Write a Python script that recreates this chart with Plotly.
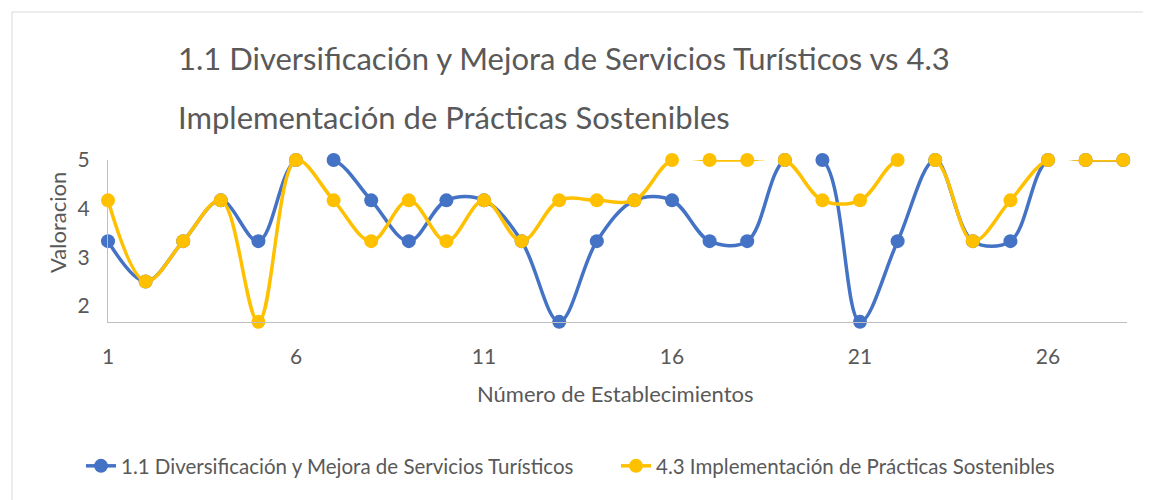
import plotly.graph_objects as go

establecimientos = list(range(1, 29))
serie_11 = [3.33, 2.5, 3.33, 4.17, 3.33, 5, 5, 4.17, 3.33, 4.17, 4.17, 3.33, 1.67, 3.33,
            4.17, 4.17, 3.33, 3.33, 5, 5, 1.67, 3.33, 5, 3.33, 3.33, 5, 5, 5]
serie_43 = [4.17, 2.5, 3.33, 4.17, 1.67, 5, 4.17, 3.33, 4.17, 3.33, 4.17, 3.33, 4.17, 4.17,
            4.17, 5, 5, 5, 5, 4.17, 4.17, 5, 5, 3.33, 4.17, 5, 5, 5]
nombre_11 = "1.1 Diversificación y Mejora de Servicios Turísticos"
nombre_43 = "4.3 Implementación de Prácticas Sostenibles"
titulo_1 = "1.1 Diversificación y Mejora de Servicios Turísticos vs 4.3"
titulo_2 = "Implementación de Prácticas Sostenibles"
y_ticks = [2, 3, 4, 5]
x_ticks = [1, 6, 11, 16, 21, 26]

GRAY = "#595959"
FONT = "Lato"

# page offset (body margin) compensation
OFF = 8
W, H = 1151 - OFF, 500 - OFF
# plot area in page pixels
L, R, T, B = 108, 1127, 160, 322
def px(x):
    return (x - L) / (R - L)
def py(y):
    return (B - y) / (B - T)

fig = go.Figure()
fig.add_trace(go.Scatter(
    x=establecimientos, y=serie_11, name=nombre_11, mode="lines+markers",
    line=dict(color="#4472C4", width=3.5, shape="spline", smoothing=1.0),
    marker=dict(color="#4472C4", size=14), cliponaxis=False))
fig.add_trace(go.Scatter(
    x=establecimientos, y=serie_43, name=nombre_43, mode="lines+markers",
    line=dict(color="#FFC000", width=3.5, shape="spline", smoothing=1.0),
    marker=dict(color="#FFC000", size=14), cliponaxis=False))

fig.update_layout(
    width=W, height=H,
    margin=dict(l=L - OFF, r=W - (R - OFF), t=T - OFF, b=H - (B - OFF), pad=0),
    paper_bgcolor="white", plot_bgcolor="white",
    font=dict(family=FONT, color=GRAY, size=20),
    showlegend=True,
    legend=dict(orientation="h", x=px(88), y=py(466), xanchor="left", yanchor="middle",
                font=dict(size=20.5, color=GRAY), entrywidth=490, entrywidthmode="pixels"),
    xaxis=dict(range=[1, 28.1], tickvals=x_ticks, showgrid=False, zeroline=False,
               showline=True, linecolor="#bfbfbf", linewidth=1, ticks="",
               ticklabelstandoff=16, tickfont=dict(size=21, color=GRAY)),
    yaxis=dict(range=[5 / 3, 5], tickvals=y_ticks, showgrid=False, zeroline=False,
               showline=True, linecolor="#bfbfbf", linewidth=1, ticks="",
               ticklabelstandoff=13, tickfont=dict(size=21, color=GRAY)),
    shapes=[dict(type="rect", xref="paper", yref="paper",
                 x0=px(12), x1=px(1170), y0=py(520), y1=py(12),
                 line=dict(color="#d9d9d9", width=1), layer="below")],
    annotations=[
        dict(text=titulo_1, xref="paper", yref="paper", x=px(176), y=py(58),
             xanchor="left", yanchor="middle", showarrow=False,
             font=dict(size=31, color=GRAY, family=FONT)),
        dict(text=titulo_2, xref="paper", yref="paper", x=px(176), y=py(117),
             xanchor="left", yanchor="middle", showarrow=False,
             font=dict(size=31, color=GRAY, family=FONT)),
        dict(text="Valoracion", xref="paper", yref="paper", x=px(57), y=py(223),
             xanchor="center", yanchor="middle", textangle=-90, showarrow=False,
             font=dict(size=22, color=GRAY, family=FONT)),
        dict(text="Número de Establecimientos", xref="paper", yref="paper", x=px(615), y=py(393),
             xanchor="center", yanchor="middle", showarrow=False,
             font=dict(size=22, color=GRAY, family=FONT)),
    ],
)

fig.write_html("out.html")
